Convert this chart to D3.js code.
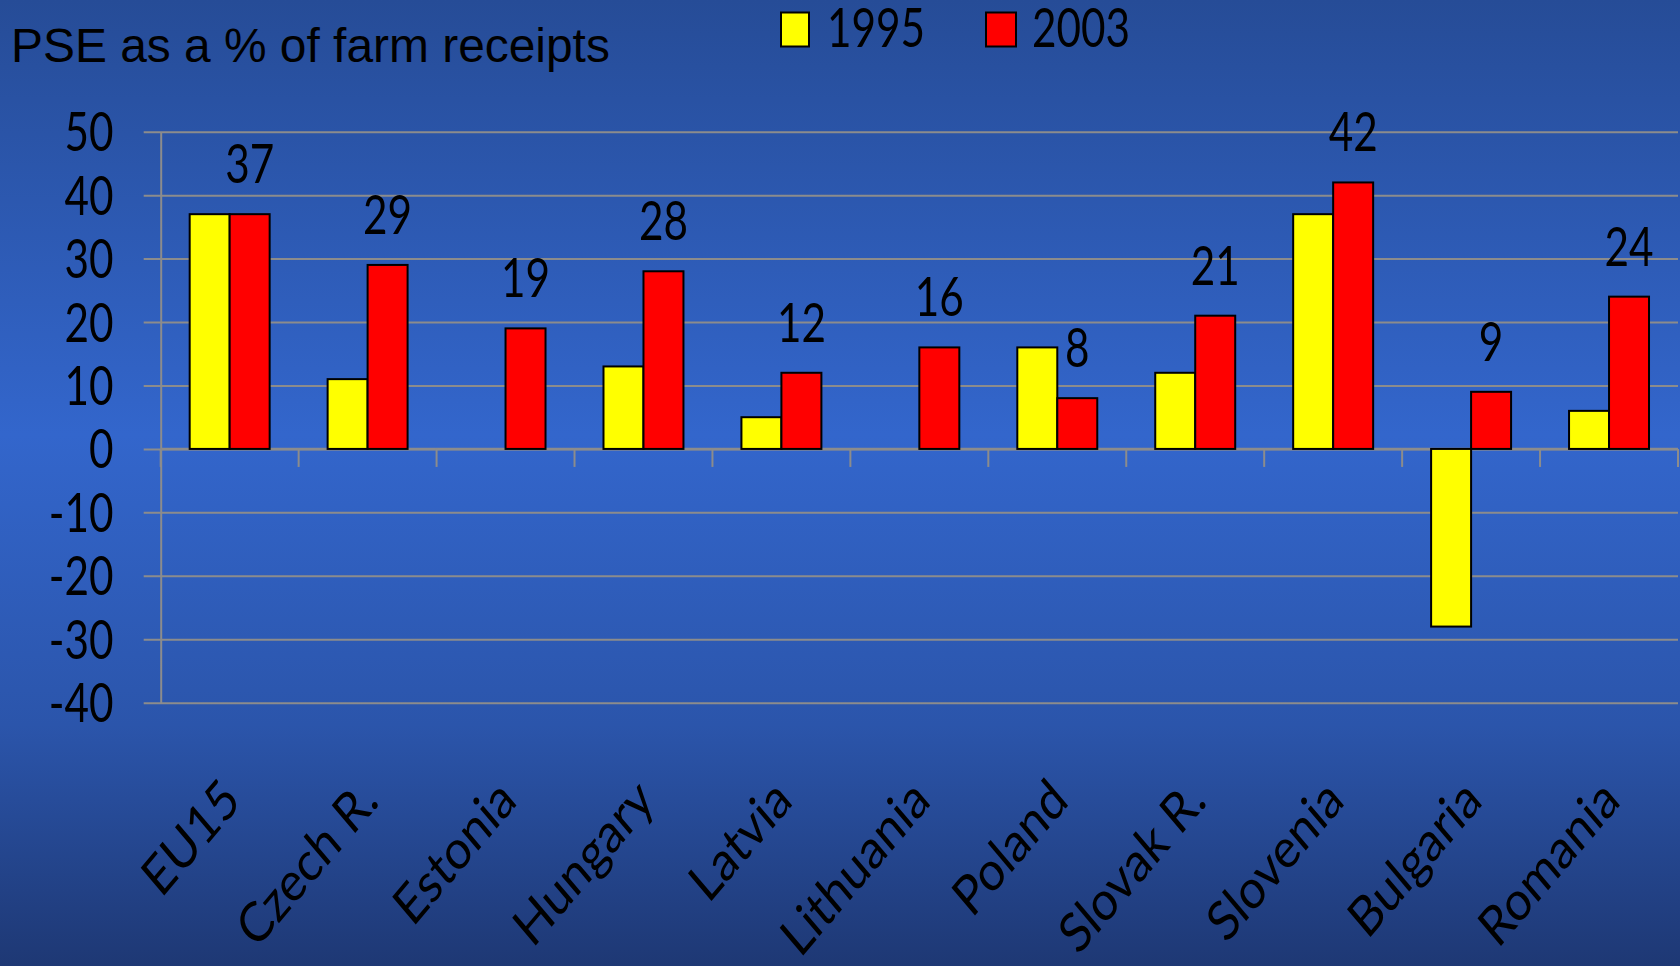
<!DOCTYPE html>
<html>
<head>
<meta charset="utf-8">
<script src="https://cdn.jsdelivr.net/npm/d3@7/dist/d3.min.js"></script>
<style>
  html, body { margin: 0; padding: 0; overflow: hidden; }
  svg { display: block; }
</style>
</head>
<body>
<svg id="chart" width="1680" height="966"></svg>
<script>
const titleText = "PSE as a % of farm receipts";
const categories = ["EU15", "Czech R.", "Estonia", "Hungary", "Latvia", "Lithuania", "Poland", "Slovak R.", "Slovenia", "Bulgaria", "Romania"];
const seriesNames = ["1995", "2003"];
const values1995 = [37, 11, null, 13, 5, null, 16, 12, 37, -28, 6];
const values2003 = [37, 29, 19, 28, 12, 16, 8, 21, 42, 9, 24];
const seriesColors = ["#ffff00", "#ff0000"];
const yTickValues = [50, 40, 30, 20, 10, 0, -10, -20, -30, -40];

const W = 1680, H = 966;
const svg = d3.select("#chart");
const FONT = "Lato, 'Open Sans', sans-serif";
const FS = 44, SX = 0.96, SY = 1.24;

// background gradient
const defs = svg.append("defs");
const grad = defs.append("linearGradient").attr("id", "bg").attr("x1", 0).attr("y1", 0).attr("x2", 0).attr("y2", 1);
[[0, "#264c97"], [0.45, "#3366cc"], [0.75, "#2b55ab"], [1, "#1e3874"]].forEach(([o, c]) =>
  grad.append("stop").attr("offset", o).attr("stop-color", c));
svg.append("rect").attr("width", W).attr("height", H).attr("fill", "url(#bg)");

const plotLeft = 160.7, plotRight = 1678, plotTop = 131.7, plotBottom = 702.7;

const x0 = d3.scaleBand().domain(categories).range([plotLeft, plotRight]).padding(0);
const x1 = d3.scaleBand().domain(seriesNames).range([0, x0.bandwidth()]).paddingInner(0).paddingOuter(0.725);
const y = d3.scaleLinear().domain([-40, 50]).range([plotBottom, plotTop]);

const gridColor = "#8c8c8c";

// horizontal gridlines + y axis
const yAxis = d3.axisLeft(y).tickValues(yTickValues).tickSize(-(plotRight - plotLeft)).tickSizeOuter(0).tickFormat("");
const gy = svg.append("g").attr("transform", `translate(${plotLeft},0)`).call(yAxis);
gy.select(".domain").attr("stroke", gridColor).attr("stroke-width", 2);
gy.selectAll(".tick line").attr("stroke", gridColor).attr("stroke-width", 2).attr("x1", -17);

// y tick labels
svg.append("g").selectAll("text").data(yTickValues).join("text")
  .attr("transform", d => `translate(113.5,${y(d)}) scale(${SX},${SY})`)
  .attr("text-anchor", "end")
  .attr("dy", "0.358em")
  .attr("font-family", FONT).attr("font-size", FS).attr("fill", "#000")
  .text(d => d);

// category axis at zero with ticks at boundaries
const gx = svg.append("g");
gx.append("line").attr("x1", plotLeft).attr("x2", plotRight).attr("y1", y(0)).attr("y2", y(0))
  .attr("stroke", gridColor).attr("stroke-width", 2.5);
const boundaries = categories.map(c => x0(c) + x0.bandwidth()).concat([plotLeft]);
gx.selectAll("line.tk").data(boundaries).join("line").attr("class", "tk")
  .attr("x1", d => d).attr("x2", d => d).attr("y1", y(0)).attr("y2", y(0) + 18)
  .attr("stroke", gridColor).attr("stroke-width", 2);

// bars
const rows = categories.map((c, i) => ({ cat: c, vals: [values1995[i], values2003[i]] }));
const groups = svg.append("g").selectAll("g").data(rows).join("g")
  .attr("transform", d => `translate(${x0(d.cat)},0)`);
groups.selectAll("rect").data(d => d.vals.map((v, j) => ({ v, s: seriesNames[j], j })).filter(e => e.v !== null))
  .join("rect")
  .attr("x", e => x1(e.s))
  .attr("width", x1.bandwidth())
  .attr("y", e => y(Math.max(0, e.v)))
  .attr("height", e => Math.abs(y(e.v) - y(0)))
  .attr("fill", e => seriesColors[e.j])
  .attr("stroke", "#000").attr("stroke-width", 2);

// data labels for 2003
svg.append("g").selectAll("text").data(rows).join("text")
  .attr("transform", d => `translate(${x0(d.cat) + x1("2003") + x1.bandwidth() / 2},${y(d.vals[1]) - 31}) scale(${SX},${SY})`)
  .attr("text-anchor", "middle")
  .attr("font-family", FONT).attr("font-size", FS).attr("fill", "#000")
  .text(d => d.vals[1]);

// category labels rotated (stretched vertically like the reference)
svg.append("g").selectAll("text").data(categories).join("text")
  .attr("transform", c => `translate(${x0(c) + x0.bandwidth() / 2 + 13},803) scale(1,1.18) rotate(-45)`)
  .attr("text-anchor", "end")
  .attr("font-family", FONT).attr("font-size", 46.5).attr("fill", "#000")
  .text(c => c);

// title
svg.append("text").attr("x", 11).attr("y", 62)
  .attr("font-family", "'Liberation Sans', Arial, sans-serif").attr("font-size", 47.9).attr("fill", "#000")
  .text(titleText);

// legend
const legendX = [781, 986];
const leg = svg.append("g").selectAll("g").data(seriesNames).join("g")
  .attr("transform", (d, i) => `translate(${legendX[i]},0)`);
leg.append("rect").attr("x", 0).attr("y", 12.5).attr("width", (d, i) => i === 0 ? 28 : 30).attr("height", 34)
  .attr("fill", (d, i) => seriesColors[i]).attr("stroke", "#000").attr("stroke-width", 2);
leg.append("text")
  .attr("transform", (d, i) => `translate(46,46.7) scale(${SX},${SY})`)
  .attr("font-family", FONT).attr("font-size", FS).attr("fill", "#000")
  .text(d => d);
</script>
</body>
</html>
